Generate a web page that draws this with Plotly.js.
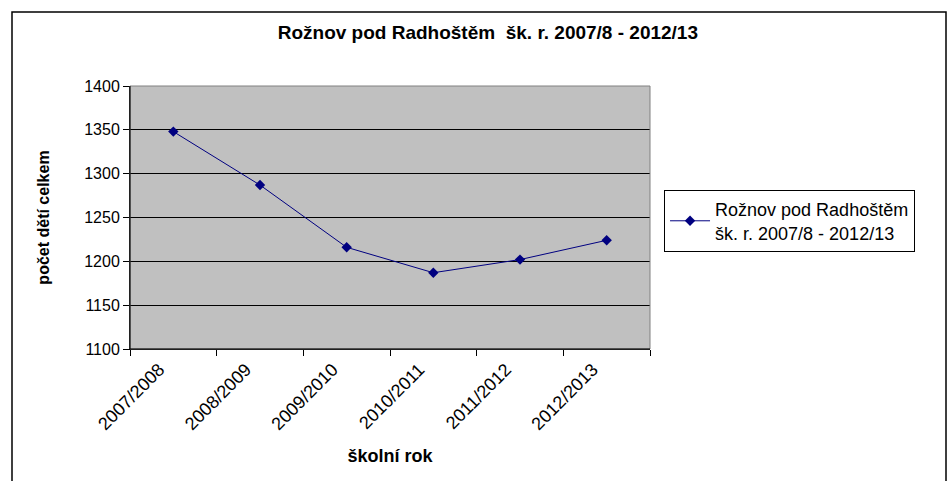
<!DOCTYPE html>
<html><head><meta charset="utf-8">
<script src="https://cdn.plot.ly/plotly-3.0.1.min.js"></script>
<style>html,body{margin:0;padding:0;background:#fff;}#c{width:951px;height:481px;}</style>
</head><body><div id="c"></div>
<script>
const categories = ["2007/2008","2008/2009","2009/2010","2010/2011","2011/2012","2012/2013"];
const values = [1348, 1287, 1216, 1187, 1202, 1224];
const seriesName = "Rožnov pod Radhoštěm<br>šk. r. 2007/8 - 2012/13";
const yTicks = [1100,1150,1200,1250,1300,1350,1400];

const F = "Liberation Sans, Arial, sans-serif";
const trace = {
  x: categories, y: values, type: "scatter", mode: "lines+markers",
  name: seriesName,
  line: {color: "#000080", width: 1},
  marker: {symbol: "diamond", size: 8, color: "#000080"}
};
const layout = {
  width: 951, height: 481,
  margin: {l: 130, r: 301, t: 86, b: 132},
  paper_bgcolor: "#ffffff", plot_bgcolor: "#c0c0c0",
  font: {family: F, size: 15, color: "#000"},
  title: {text: "<b>Rožnov pod Radhoštěm  šk. r. 2007/8 - 2012/13</b>", font: {family: F, size: 19}, xref: "container", x: 0.513, xanchor: "center", yref: "container", y: 0.933, yanchor: "middle"},
  showlegend: true,
  legend: {x: 1.027, xanchor: "left", y: 0.605, yanchor: "top", bordercolor: "#000", borderwidth: 1, bgcolor: "#fff", font: {family: F, size: 18}, tracegroupgap: 0, itemwidth: 40},
  xaxis: {
    type: "category", tickson: "boundaries", ticks: "outside", ticklen: 6, tickcolor: "#000",
    showgrid: false, showline: true, linecolor: "#000", linewidth: 1, mirror: false,
    tickangle: -45, tickfont: {family: F, size: 18}, ticklabelshift: -14, ticklabelstandoff: 2,
    title: {text: "<b>školní rok</b>", font: {family: F, size: 18}, standoff: 16},
    range: [-0.5, 5.5]
  },
  yaxis: {
    range: [1100, 1400], tickvals: yTicks, ticks: "outside", ticklen: 6, tickcolor: "#000",
    showgrid: true, gridcolor: "#000", gridwidth: 1, zeroline: false,
    showline: true, linecolor: "#000", linewidth: 1,
    tickfont: {family: F, size: 16},
    title: {text: "<b>počet dětí celkem</b>", font: {family: F, size: 16}, standoff: 30}
  },
  shapes: [
    {type: "rect", xref: "paper", yref: "paper", x0: 0, x1: 1, y0: 0, y1: 1, line: {color: "#808080", width: 1}},
    {type: "line", xref: "paper", yref: "paper", x0: 0, x1: 0, y0: 0, y1: 1, line: {color: "#000", width: 1}},
    {type: "line", xref: "paper", yref: "paper", x0: 0, x1: 1, y0: 0, y1: 0, line: {color: "#000", width: 1}},
    {type: "rect", xref: "paper", yref: "paper", x0: -118/520, x1: 816/520, y0: -140/263, y1: 1 + 74/263, line: {color: "#000", width: 1.5}, layer: "below"}
  ]
};
Plotly.newPlot("c", [trace], layout, {displayModeBar: false, staticPlot: true});
</script></body></html>
